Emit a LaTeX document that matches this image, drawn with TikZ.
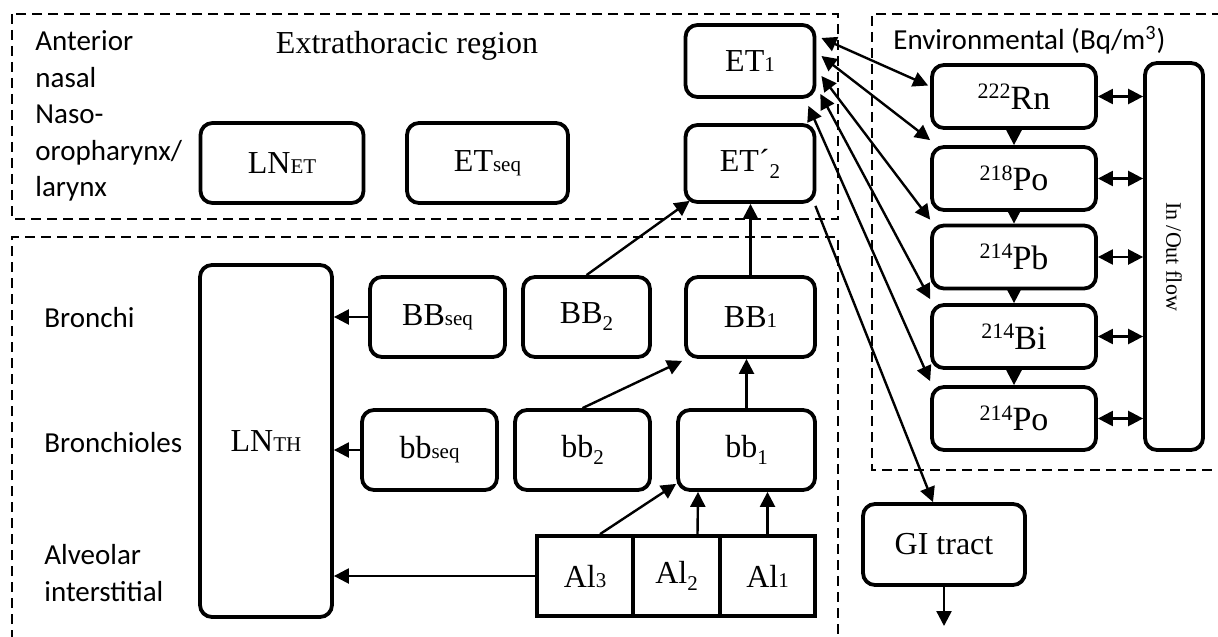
\documentclass[tikz,border=0pt]{standalone}
\usepackage{fontspec}
\setmainfont{Liberation Serif}
\newfontfamily\sansf{Carlito}
\usetikzlibrary{arrows.meta,calc}
\newcommand\lowtxt[1]{{\fontsize{10.5}{11}\selectfont #1}}
\newcommand\subtxt[1]{\raisebox{-3.5pt}{\fontsize{10.5}{11}\selectfont #1}}
\newcommand\suptxt[1]{\raisebox{5.3pt}{\fontsize{11}{11}\selectfont #1}}
\begin{document}
\begin{tikzpicture}[x=.5pt,y=-.5pt,
  box/.style={draw, rounded corners=6pt, line width=1.9pt, inner sep=0pt, font=\fontsize{16}{19}\selectfont},
  cell/.style={draw, line width=1.9pt, inner sep=0pt, minimum height=40pt, font=\fontsize{16}{19}\selectfont},
  nucl/.style={box, minimum width=82pt, minimum height=31.5pt, font=\fontsize{17}{19}\selectfont},
  arr/.style={line width=1.2pt, -{Triangle[length=7.5pt,width=7.5pt]}},
  darr/.style={line width=1.2pt, {Triangle[length=7.5pt,width=7.5pt]}-{Triangle[length=7.5pt,width=7.5pt]}},
  region/.style={line width=1.2pt, dash pattern=on 5pt off 3pt},
  lbl/.style={font=\sansf\fontsize{14.5}{18.3}\selectfont, inner sep=0pt, align=left}]
\useasboundingbox (0,0) rectangle (1218,636);
% regions
\draw[region] (12,14) rectangle (838,219);
\draw[region] (12,640) -- (12,237) -- (838,237) -- (838,640);
\draw[region] (1222,14) -- (872,14) -- (872,470) -- (1222,470);
\node[lbl, anchor=base west] (ant) at (35,197) {Anterior\\nasal\\Naso-\\oropharynx/\\larynx};
\node[inner sep=0pt, anchor=base, font=\fontsize{16}{19}\selectfont] (etr) at (407,54) {Extrathoracic region};
\node[lbl, anchor=base west] (env) at (893,50) {Environmental (Bq/m\textsuperscript{3})};
\node[lbl, anchor=base west] (bro) at (44,327) {Bronchi};
\node[lbl, anchor=base west] (brl) at (44,452) {Bronchioles};
\node[lbl, anchor=base west] (alv) at (44,601) {Alveolar\\interstitial};
% extrathoracic
\node[box, minimum width=64.5pt, minimum height=36pt] (et1) at (750,61) {ET\lowtxt{1}};
\node[box, minimum width=64.5pt, minimum height=38.5pt] (et2) at (750,163.5) {ET´\subtxt{2}};
\node[box, minimum width=81.5pt, minimum height=40pt] (lnet) at (282,163) {LN\lowtxt{ET}};
\node[box, minimum width=80.5pt, minimum height=40pt] (etseq) at (487.5,163) {ET\lowtxt{seq}};
% thoracic
\node[box, minimum width=66pt, minimum height=176pt] (lnth) at (266,441) {LN\lowtxt{TH}};
\node[box, minimum width=67.5pt, minimum height=40pt] (BBseq) at (437.5,317) {BB\lowtxt{seq}};
\node[box, minimum width=63.5pt, minimum height=40pt] (BB2) at (586.5,317) {BB\subtxt{2}};
\node[box, minimum width=64.5pt, minimum height=40pt] (BB1) at (750.5,317) {BB\lowtxt{1}};
\node[box, minimum width=67.5pt, minimum height=40pt] (bbseq) at (429.5,450) {bb\lowtxt{seq}};
\node[box, minimum width=67.5pt, minimum height=40pt] (bb2) at (582.5,450) {bb\subtxt{2}};
\node[box, minimum width=68.5pt, minimum height=40pt] (bb1) at (746.5,450) {bb\subtxt{1}};
\node[cell, minimum width=48pt] (al3) at (585,576) {Al\lowtxt{3}};
\node[cell, minimum width=43.5pt] (al2) at (676.5,576) {Al\subtxt{2}};
\node[cell, minimum width=47.5pt] (al1) at (767.5,576) {Al\lowtxt{1}};
\node[box, minimum width=81pt, minimum height=40.5pt] (gi) at (944,544.5) {GI tract};
\coordinate (giout) at (946,626);
% environmental
\node[nucl] (rn) at (1014,96.5) {\suptxt{222}Rn};
\node[nucl] (po218) at (1014,178.5) {\suptxt{218}Po};
\node[nucl] (pb) at (1014,257) {\suptxt{214}Pb};
\node[nucl] (bi) at (1014,336.5) {\suptxt{214}Bi};
\node[nucl] (po214) at (1014,418.5) {\suptxt{214}Po};
\node[box, rotate=-90, minimum width=193.5pt, minimum height=29pt, font=\fontsize{11}{13}\selectfont] (io) at (1174,256.5) {In /Out flow};
% connectors
\draw[darr] ($(et1.east)+(5,-23)$) -- ($(rn.west)+(-2,-11)$);
\draw[darr] ($(et1.east)+(5,-5)$) -- ($(po218.north west)+(0,-5)$);
\draw[darr] ($(et1.east)+(5,15)$) -- ($(pb.north west)+(0,-4)$);
\draw[darr] ($(et1.east)+(4,33)$) -- ($(bi.north west)+(0,-4)$);
\draw[darr] ($(et1.south east)+(-8,7)$) -- ($(po214.north west)+(0,-4)$);
\draw[arr] (rn.south) -- (po218.north);
\draw[arr] (po218.south) -- (pb.north);
\draw[arr] (pb.south) -- (bi.north);
\draw[arr] (bi.south) -- (po214.north);
\draw[darr] (rn.east) -- (rn.east -| io.south);
\draw[darr] (po218.east) -- (po218.east -| io.south);
\draw[darr] (pb.east) -- (pb.east -| io.south);
\draw[darr] (bi.east) -- (bi.east -| io.south);
\draw[darr] (po214.east) -- (po214.east -| io.south);
\draw[arr] (BBseq.west) -- (BBseq.west -| lnth.east);
\draw[arr] (bbseq.west) -- (bbseq.west -| lnth.east);
\draw[arr] (al3.west) -- (al3.west -| lnth.east);
\draw[arr] ($(al3.north)+(15,0)$) -- ($(bb1.south west)+(0,-8)$);
\draw[arr] ($(al2.north)+(21,0)$) -- ($(bb1.south)+(-48.5,0)$);
\draw[arr] (al1.north) -- (al1.north |- bb1.south);
\draw[arr] (bb1.north) -- (bb1.north |- BB1.south);
\draw[arr] (bb2.north) -- ($(BB1.south west)+(-2,2)$);
\draw[arr] (BB2.north) -- ($(et2.south west)+(6,-3)$);
\draw[arr] (BB1.north) -- (BB1.north |- et2.south);
\draw[arr] ($(et2.south east)+(-1,2)$) -- ($(gi.north)+(-11,0)$);
\draw[arr] (gi.south) -- (gi.south |- giout);
\end{tikzpicture}
\end{document}
